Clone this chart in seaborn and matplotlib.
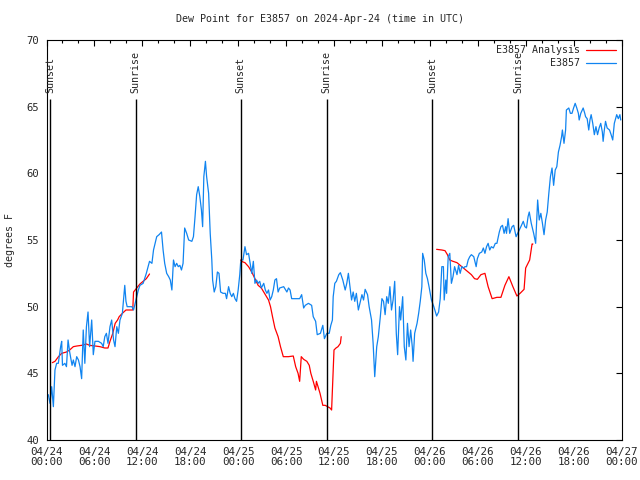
import numpy as np
import pandas as pd
import matplotlib
matplotlib.use("Agg")
import matplotlib.pyplot as plt
import seaborn as sns
from matplotlib.ticker import MultipleLocator

# hours since 2024-04-24 00:00 UTC
blue_h = [0.23, 0.44, 0.65, 0.86, 1.06, 1.27, 1.48, 1.77, 1.9, 2.0, 2.3, 2.5, 2.7, 2.9, 3.2, 3.36, 3.57,
          3.78, 4.0, 4.2, 4.4, 4.6, 4.8, 5.0, 5.2, 5.4, 5.66, 5.86, 6.07, 6.5, 6.9, 7.1, 7.3, 7.5, 7.7,
          7.95, 8.16, 8.4, 8.58, 8.8, 9.0, 9.2, 9.5, 9.8, 9.95, 10.1, 10.7, 10.9, 11.1, 11.5, 11.7, 12.1,
          12.5, 12.9, 13.2, 13.4, 13.6, 13.8, 14.1, 14.4, 14.6, 14.8, 15.05, 15.3, 15.5, 15.7, 15.9, 16.1,
          16.3, 16.5, 16.7, 16.9, 17.1, 17.3, 17.55, 17.8, 18.2, 18.4, 18.6, 18.8, 19.0, 19.2, 19.4, 19.55,
          19.7, 19.9, 20.05, 20.3, 20.5, 20.7, 20.8, 21.0, 21.2, 21.4, 21.6, 21.8, 22.1, 22.4, 22.55, 22.8,
          23.0, 23.2, 23.4, 23.6, 23.8, 24.0, 24.2, 24.3, 24.4, 24.6, 24.85, 25.05, 25.3, 25.5, 25.7, 25.9,
          26.1, 26.3, 26.5, 26.7, 26.9, 27.2, 27.4, 27.6, 27.8, 28.0, 28.2, 28.4, 28.6, 28.8, 29.0, 29.2,
          29.7, 30.1, 30.3, 30.5, 30.7, 31.3, 31.7, 31.95, 32.2, 32.4, 32.8, 33.2, 33.4, 33.7, 33.9, 34.3,
          34.6, 34.8, 35.1, 35.4, 35.6, 35.8, 35.9, 36.1, 36.3, 36.6, 36.8, 37.1, 37.4, 37.6, 37.8, 38.0,
          38.2, 38.4, 38.6, 38.8, 39.05, 39.3, 39.5, 39.7, 39.9, 40.2, 40.4, 40.7, 40.9, 41.1, 41.35, 41.55,
          41.8, 42.0, 42.2, 42.4, 42.6, 42.8, 43.0, 43.2, 43.4, 43.6, 43.8, 43.97, 44.2, 44.35, 44.6, 44.8,
          45.0, 45.2, 45.4, 45.6, 45.8, 45.9, 46.1, 46.4, 46.6, 46.8, 47.0, 47.1, 47.3, 47.5, 47.7, 47.9,
          48.2, 48.5, 48.85, 49.1, 49.3, 49.5, 49.7, 49.8, 50.0, 50.1, 50.3, 50.5, 50.7, 50.9, 51.1, 51.4,
          51.6, 51.8, 52.0, 52.2, 52.4, 52.6, 52.8, 53.0, 53.2, 53.5, 53.8, 53.95, 54.2, 54.5, 54.7, 54.9,
          55.1, 55.3, 55.5, 55.7, 55.95, 56.2, 56.4, 56.7, 56.9, 57.1, 57.3, 57.5, 57.6, 57.8, 58.0, 58.3,
          58.5, 58.8, 59.0, 59.2, 59.4, 59.7, 59.9, 60.1, 60.3, 60.45, 60.7, 60.8, 61.0, 61.25, 61.5, 61.7,
          61.9, 62.1, 62.3, 62.5, 62.7, 62.9, 63.1, 63.3, 63.5, 63.7, 63.9, 64.1, 64.3, 64.5, 64.6, 64.8,
          65.0, 65.1, 65.4, 65.6, 65.8, 66.0, 66.2, 66.4, 66.6, 66.7, 66.9, 67.2, 67.4, 67.5, 67.7, 67.9,
          68.05, 68.2, 68.4, 68.6, 68.8, 69.0, 69.2, 69.4, 69.6, 69.7, 69.85, 70.0, 70.2, 70.5, 70.7, 70.9,
          71.1, 71.4, 71.6, 71.8, 71.9]
blue_v = [43.4, 42.75, 44, 42.5, 45.25, 45.75, 45.75, 47, 47.4, 45.6, 45.75, 45.5, 47.5, 46.6, 45.6, 46, 45.5,
          46.25, 46, 45.5, 44.6, 48.25, 45.75, 48.5, 49.6, 47, 49, 46.4, 47.4, 47.4, 47.25, 47, 47.75, 48, 47.25,
          48.5, 49, 47.5, 47, 48.5, 48, 49, 49.5, 51.6, 50.4, 50, 50, 49.75, 50.25, 51.25, 51.6, 51.75,
          52.5, 53.4, 53.25, 54.25, 54.75, 55.25, 55.4, 55.6, 54.25, 53.25, 52.5, 52.25, 52, 51.25, 53.5, 53,
          53.25, 53, 53.1, 52.75, 53.25, 55.9, 55.5, 55, 54.9, 55.25, 56.75, 58.4, 59, 58.25, 57.25, 56,
          59.75, 60.9, 59.75, 58.5, 55.5, 53.5, 52, 51.1, 51.5, 52.6, 52.5, 51.1, 51, 51, 50.6, 51.5,
          51, 50.75, 51, 50.6, 50.4, 51.25, 52.4, 53.25, 53.5, 53.5, 54.5, 53.9, 54, 53.25, 52.5, 53.4,
          51.75, 52, 51.75, 51.9, 51.4, 51.75, 51.25, 51, 51.25, 50.5, 50.75, 51.25, 52, 52.1, 51.1, 51.4,
          51.5, 51.1, 51.4, 51.25, 50.6, 50.6, 50.6, 50.9, 49.9, 50.1, 50.25, 50.1, 49.25, 48.9, 47.9, 48,
          48.6, 47.6, 48, 48, 48.6, 49, 50.75, 51.75, 51.9, 52.4, 52.55, 52, 51.25, 51.75, 52.5, 51.5,
          50.5, 51.1, 50.4, 51, 49.75, 50.4, 50.9, 50.5, 51.3, 50.9, 50, 49, 47.25, 44.75, 47, 47.75,
          49.25, 50.6, 50.4, 49.4, 50.75, 50.25, 51.5, 49.75, 50.5, 51.9, 48, 46.4, 50, 49, 50.75, 47,
          46, 48.75, 47, 48.25, 47, 45.9, 48, 48.75, 49.5, 50.4, 51.5, 54, 53.5, 52.5, 52.1, 51.5,
          50.5, 50, 49.3, 49.6, 50.6, 53, 53, 50.5, 52, 51, 53.75, 54, 51.75, 52.25, 53, 52.4,
          53.1, 52.5, 53, 52.9, 53, 53, 53.5, 53.75, 53.9, 53.75, 53, 53.6, 54, 54.1, 54.4, 54,
          54.5, 54.75, 54.25, 54.5, 54.4, 54.75, 54.75, 55.6, 56, 56.1, 55.5, 56, 55.5, 56.6, 55.5, 56,
          56.1, 55.25, 55.5, 55.75, 56, 56.4, 56, 55.9, 56.75, 57.1, 56.25, 56, 55.5, 54.75, 58, 56.5,
          57, 56.25, 55.4, 56.5, 57.1, 58.5, 59.75, 60.4, 59.1, 60.25, 60.5, 61.6, 62.1, 62.75, 63.25, 62.25,
          63.25, 64.75, 64.9, 64.5, 64.5, 64.9, 65.25, 64.9, 64.5, 64, 64.5, 64.9, 64.5, 64.25, 64.1, 63.25,
          64, 64.4, 63.75, 62.9, 63.5, 62.9, 63.4, 63.75, 63.1, 62.4, 63.25, 63.9, 63.4, 63.25, 62.9, 62.5,
          63.75, 64.4, 64.1, 64.4, 64]

# analysis series, three separate runs
red1_h = [0.73, 1.06, 1.5, 1.9, 2.5, 2.9, 3.36, 3.8, 4.4, 5.0, 5.4, 6.1, 6.7, 7.3, 7.7, 7.95, 8.3, 8.6,
          8.9, 9.1, 9.5, 9.95, 10.2, 10.8, 10.9, 11.3, 11.7, 12.1, 12.5, 12.9]
red1_v = [45.8, 45.9, 46.25, 46.5, 46.6, 46.75, 47, 47.05, 47.1, 47.2, 47.1, 47.05, 47, 46.9, 46.9, 47.4, 48, 48.75,
          49, 49.25, 49.5, 49.75, 49.75, 49.75, 51.1, 51.4, 51.7, 51.9, 52.1, 52.45]
red2_h = [24.3, 24.4, 24.85, 25.3, 25.7, 26.1, 26.5, 26.9, 27.4, 27.8, 28.05, 28.3, 28.6, 29.0, 29.3, 29.65,
          30.3, 30.9, 31.2, 31.5, 31.7, 31.9, 32.2, 32.6, 32.9, 33.1, 33.4, 33.7, 33.8, 34.0, 34.25, 34.6,
          34.9, 35.2, 35.5, 35.7, 35.85, 36.0, 36.25, 36.5, 36.8, 36.9]
red2_v = [53.5, 53.4, 53.3, 53, 52.6, 52.1, 51.6, 51.4, 50.9, 50.5, 50, 49.25, 48.4, 47.75, 47, 46.25,
          46.25, 46.3, 45.5, 45, 44.4, 46.25, 46.05, 45.9, 45.6, 45, 44.4, 43.75, 44.4, 44, 43.5, 42.6,
          42.6, 42.5, 42.4, 42.25, 44.5, 46.75, 46.9, 47, 47.25, 47.75]
red3_h = [48.85, 49.5, 49.9, 50.2, 50.5, 50.9, 51.4, 51.8, 52.2, 52.8, 53.2, 53.6, 53.95, 54.4, 54.9, 55.3,
          55.8, 56.4, 56.9, 57.4, 57.9, 58.4, 58.9, 59.3, 59.8, 60.0, 60.5, 60.8, 60.9]
red3_v = [54.3, 54.25, 54.2, 53.9, 53.5, 53.4, 53.3, 53.1, 52.9, 52.6, 52.4, 52.1, 52.05, 52.4, 52.5, 51.5,
          50.6, 50.7, 50.7, 51.6, 52.25, 51.5, 50.8, 51, 51.3, 52.9, 53.5, 54.7, 54.7]

sun_h = [0.44, 11.15, 24.3, 35.1, 48.3, 59.1]
sun_labels = ["Sunset", "Sunrise", "Sunset", "Sunrise", "Sunset", "Sunrise"]

tick_h = list(range(0, 73, 6))
tick_labels = ["04/24\n00:00", "04/24\n06:00", "04/24\n12:00", "04/24\n18:00",
               "04/25\n00:00", "04/25\n06:00", "04/25\n12:00", "04/25\n18:00",
               "04/26\n00:00", "04/26\n06:00", "04/26\n12:00", "04/26\n18:00",
               "04/27\n00:00"]

sns.set_style("white")
plt.rcParams['font.family'] = ['DejaVu Sans Mono', 'DejaVu Sans']
plt.rcParams['font.size'] = 7.2

fig = plt.figure(figsize=(6.4, 4.8), dpi=100)
ax = fig.add_axes([46.5 / 640, 40 / 480, 575 / 640, 400 / 480])

red = "#ff0000"
blue = "#1084f0"

blue_df = pd.DataFrame({"hour": blue_h, "dewpt": blue_v})
for i, (h, v) in enumerate([(red1_h, red1_v), (red2_h, red2_v), (red3_h, red3_v)]):
    seg = pd.DataFrame({"hour": h, "dewpt": v})
    sns.lineplot(data=seg, x="hour", y="dewpt", ax=ax, color=red, lw=0.9,
                 label="E3857 Analysis" if i == 0 else None, estimator=None, sort=False)
sns.lineplot(data=blue_df, x="hour", y="dewpt", ax=ax, color=blue, lw=0.9,
             label="E3857", estimator=None, sort=False)

for h, lab in zip(sun_h, sun_labels):
    ax.vlines(h, 40, 65.6, color="black", lw=1.0)
    ax.text(h, 66.0, lab, rotation=90, ha="center", va="bottom", fontsize=7.2)

ax.set_xlim(0, 72)
ax.set_ylim(40, 70)
ax.set_xticks(tick_h)
ax.set_xticklabels(tick_labels, fontsize=7.8, linespacing=1.05)
ax.xaxis.set_minor_locator(MultipleLocator(2))
ax.yaxis.set_major_locator(MultipleLocator(5))
ax.tick_params(which="both", direction="in", top=True, right=True, color="black", width=0.8)
ax.tick_params(which="major", length=4, pad=5)
ax.tick_params(axis="y", labelsize=7.6)
ax.tick_params(which="minor", length=2)
ax.set_xlabel("")
ax.set_ylabel("")
for s in ax.spines.values():
    s.set_color("black")
    s.set_linewidth(0.8)

ax.legend(loc="upper right", frameon=False, markerfirst=False, handlelength=3.0,
          fontsize=7.2, borderaxespad=0.15, labelspacing=0.3, handletextpad=0.6)

fig.text(0.5, 1 - 19 / 480, "Dew Point for E3857 on 2024-Apr-24 (time in UTC)", ha="center", va="center", fontsize=7.2)
fig.text(10 / 640, 0.5, "degrees F", rotation=90, ha="center", va="center", fontsize=7.2)

fig.savefig("out.png", dpi=100)
